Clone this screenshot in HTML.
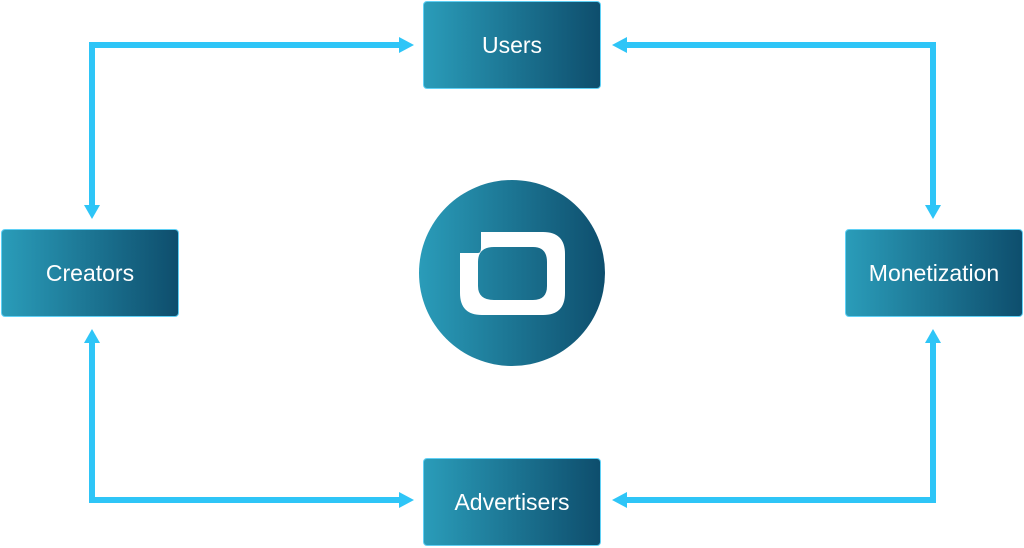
<!DOCTYPE html>
<html><head><style>
body{margin:0;width:1024px;height:548px;background:#fff;position:relative;overflow:hidden;font-family:"Liberation Sans",sans-serif}
.b{position:absolute;width:176px;height:86px;border:1.5px solid #5fd0f5;border-radius:4px;background:linear-gradient(90deg,#2a9cb9,#0e4e6d);color:#fff;font-size:23px;display:flex;align-items:center;justify-content:center;box-sizing:content-box}
</style></head><body>
<svg width="1024" height="548" style="position:absolute;left:0;top:0">
<defs><linearGradient id="g" x1="0" x2="1"><stop offset="0" stop-color="#2a9cb9"/><stop offset="1" stop-color="#0e4e6d"/></linearGradient></defs>
<g fill="none" stroke="#2ec5f7" stroke-width="6">
<polyline points="92,206 92,45 400,45"/>
<polyline points="626,45 933,45 933,206"/>
<polyline points="92,342 92,500 400,500"/>
<polyline points="626,500 933,500 933,342"/>
</g>
<g fill="#2ec5f7">
<polygon points="84,205 100,205 92,219"/>
<polygon points="925,205 941,205 933,219"/>
<polygon points="84,343 100,343 92,329"/>
<polygon points="925,343 941,343 933,329"/>
<polygon points="399,37 399,53 414,45"/>
<polygon points="627,37 627,53 612,45"/>
<polygon points="399,492 399,508 414,500"/>
<polygon points="627,492 627,508 612,500"/>
</g>
<circle cx="512" cy="273" r="93" fill="url(#g)"/>
<path fill="#fff" fill-rule="evenodd" d="M481,232 H543 Q565,232 565,254 V293 Q565,315 543,315 H482 Q460,315 460,293 V253 H478 Q481,253 481,248 Z M494,247 Q478,247 478,262 V286 Q478,300 494,300 H533 Q547,300 547,286 V262 Q547,247 533,247 Z"/>
</svg>
<div class="b" style="left:423px;top:1px">Users</div>
<div class="b" style="left:1px;top:229px">Creators</div>
<div class="b" style="left:845px;top:229px">Monetization</div>
<div class="b" style="left:423px;top:458px">Advertisers</div>
</body></html>
